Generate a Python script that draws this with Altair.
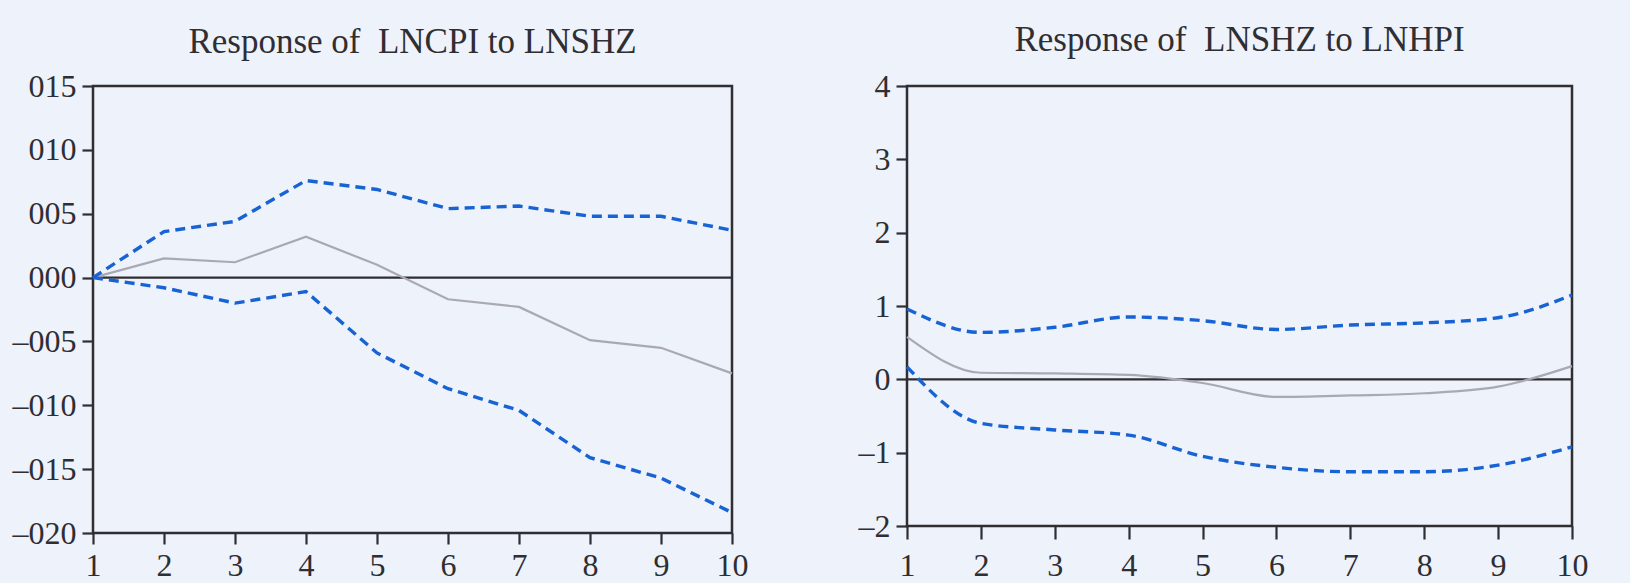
import altair as alt
import pandas as pd

periods = [1, 2, 3, 4, 5, 6, 7, 8, 9, 10]

# Left panel: Response of LNCPI to LNSHZ
left_resp = [0.0, 0.0015, 0.0012, 0.0032, 0.0010, -0.0017, -0.0023, -0.0049, -0.0055, -0.0075]
left_upper = [0.0, 0.0036, 0.0044, 0.0076, 0.0069, 0.0054, 0.0056, 0.0048, 0.0048, 0.0037]
left_lower = [0.0, -0.0008, -0.0020, -0.0011, -0.0059, -0.0087, -0.0104, -0.0141, -0.0157, -0.0184]
left_ticks = [-0.020, -0.015, -0.010, -0.005, 0.0, 0.005, 0.010, 0.015]

# Right panel: Response of LNSHZ to LNHPI
right_resp = [0.58, 0.09, 0.08, 0.06, -0.05, -0.24, -0.22, -0.19, -0.10, 0.18]
right_upper = [0.96, 0.64, 0.71, 0.85, 0.80, 0.68, 0.74, 0.77, 0.84, 1.15]
right_lower = [0.17, -0.60, -0.69, -0.76, -1.05, -1.20, -1.26, -1.26, -1.17, -0.92]
right_ticks = [-2, -1, 0, 1, 2, 3, 4]

left_title = "Response of\u00a0 LNCPI to LNSHZ"
right_title = "Response of\u00a0 LNSHZ to LNHPI"

INK = "#2e2e33"
BLUE = "#1763d4"
GRAY = "#a9a9b6"
FONT = "Liberation Serif"


def panel(resp, upper, lower, yticks, title, label_expr, w, h, interp,
          xtick, xpad, title_offset):
    df = pd.DataFrame({"t": periods, "resp": resp, "up": upper, "lo": lower})
    xs = alt.Scale(domain=[1, 10], nice=False, zero=False)
    ys = alt.Scale(domain=[yticks[0], yticks[-1]], nice=False, zero=False)
    xax = alt.Axis(values=periods, format="d", title=None, tickSize=xtick,
                   labelPadding=xpad, domain=False, labelFlush=False)
    yax = alt.Axis(values=yticks, title=None, tickSize=11, labelPadding=6,
                   labelExpr=label_expr, domain=False)
    base = alt.Chart(df)
    x = alt.X("t:Q", scale=xs, axis=xax)
    zero = alt.Chart(pd.DataFrame({"z": [0]})).mark_rule(
        color=INK, strokeWidth=2.2).encode(y=alt.Y("z:Q", scale=ys, axis=yax))
    up = base.mark_line(color=BLUE, strokeWidth=3.4, strokeDash=[10, 6],
                        interpolate=interp).encode(x=x, y=alt.Y("up:Q", scale=ys, axis=yax))
    lo = base.mark_line(color=BLUE, strokeWidth=3.4, strokeDash=[10, 6],
                        interpolate=interp).encode(x=x, y=alt.Y("lo:Q", scale=ys, axis=yax))
    rs = base.mark_line(color=GRAY, strokeWidth=2.2,
                        interpolate=interp).encode(x=x, y=alt.Y("resp:Q", scale=ys, axis=yax))
    return alt.layer(zero, rs, up, lo).properties(
        width=w, height=h,
        title=alt.TitleParams(title, frame="group", anchor="middle", offset=title_offset,
                              font=FONT, fontSize=35, fontWeight="normal", color=INK),
    )


left = panel(left_resp, left_upper, left_lower, left_ticks, left_title,
             "(datum.value < 0 ? '\u2013' : '') + format(abs(datum.value) * 1000, '03d')",
             639, 447, "linear", 11, 6, 10)
right = panel(right_resp, right_upper, right_lower, right_ticks, right_title,
              "(datum.value < 0 ? '\u2013' : '') + format(abs(datum.value), 'd')",
              665, 440, "monotone", 13, 11, 12)

chart = alt.hconcat(left, right, spacing=106).properties(
    background="#eef2fa",
    padding={"left": 10, "top": 21, "right": 40, "bottom": 0},
).configure_view(
    stroke=INK, strokeWidth=2.5, fill=None
).configure_axis(
    labelFont=FONT, labelFontSize=32, labelColor=INK, tickColor=INK,
    tickWidth=2.2, grid=False
)

chart.save("out.html", embed_options={"renderer": "svg", "actions": False})
